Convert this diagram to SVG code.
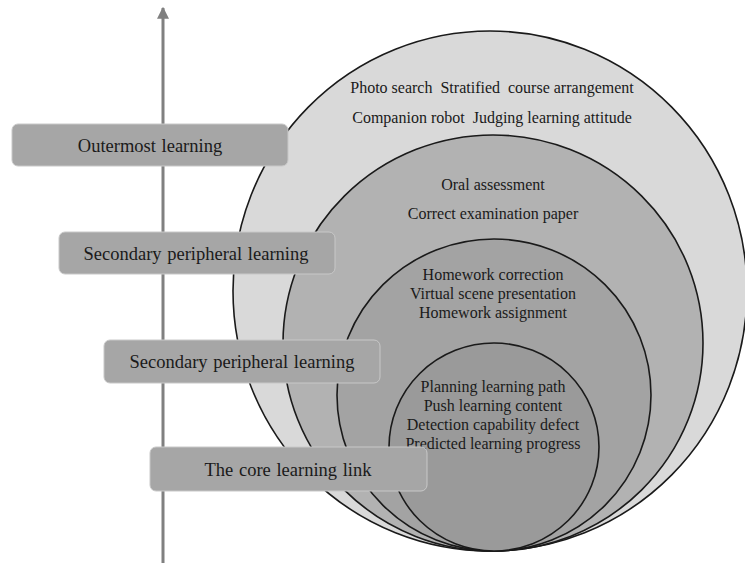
<svg xmlns="http://www.w3.org/2000/svg" width="745" height="563" viewBox="0 0 745 563">
<defs>
<style>
.ring{stroke:#1a1a1a;stroke-width:1.6}
.t{font-family:"Liberation Serif","Times New Roman",serif;fill:#1a1a1a;text-anchor:middle}
.in{font-size:16px}
.lb{font-size:18.5px;word-spacing:1px}
.box{fill:#a6a6a6;stroke:#c8c8c8;stroke-width:1}
</style>
<marker id="ah" viewBox="0 0 10 10" refX="9" refY="5" markerWidth="4" markerHeight="4" orient="auto" markerUnits="strokeWidth">
<path d="M0,0 L10,5 L0,10 z" fill="#808080"/>
</marker>
</defs>
<rect width="745" height="563" fill="#ffffff"/>
<g id="connectors">
<line x1="163" y1="563" x2="163" y2="8" stroke="#808080" stroke-width="3" marker-end="url(#ah)"/>
</g>
<g id="ring-outer">
<ellipse class="ring" cx="490" cy="291" rx="257" ry="260" fill="#d9d9d9"/>
<text class="t in" x="492" y="93" xml:space="preserve">Photo search  Stratified  course arrangement</text>
<text class="t in" x="492" y="123" xml:space="preserve">Companion robot  Judging learning attitude</text>
</g>
<g id="ring-second">
<ellipse class="ring" cx="493" cy="343" rx="210" ry="208" fill="#b2b2b2"/>
<text class="t in" x="493" y="190">Oral assessment</text>
<text class="t in" x="493" y="219">Correct examination paper</text>
</g>
<g id="ring-third">
<ellipse class="ring" cx="494" cy="395" rx="157" ry="156" fill="#a3a3a3"/>
<text class="t in" x="493" y="280">Homework correction</text>
<text class="t in" x="493" y="299">Virtual scene presentation</text>
<text class="t in" x="493" y="318">Homework assignment</text>
</g>
<g id="ring-core">
<ellipse class="ring" cx="494" cy="447" rx="105" ry="104" fill="#9a9a9a"/>
<text class="t in" x="493" y="392">Planning learning path</text>
<text class="t in" x="493" y="411">Push learning content</text>
<text class="t in" x="493" y="430">Detection capability defect</text>
<text class="t in" x="493" y="449">Predicted learning progress</text>
</g>
<g id="label-outermost">
<rect class="box" x="12" y="124" width="276" height="42" rx="6"/>
<text class="t lb" x="150" y="152">Outermost learning</text>
</g>
<g id="label-secondary-1">
<rect class="box" x="59" y="232" width="276" height="42" rx="6"/>
<text class="t lb" x="196" y="260">Secondary peripheral learning</text>
</g>
<g id="label-secondary-2">
<rect class="box" x="104" y="340" width="276" height="43" rx="6"/>
<text class="t lb" x="242" y="368">Secondary peripheral learning</text>
</g>
<g id="label-core">
<rect class="box" x="150" y="447" width="277" height="44" rx="6"/>
<text class="t lb" x="288" y="476">The core learning link</text>
</g>
</svg>
